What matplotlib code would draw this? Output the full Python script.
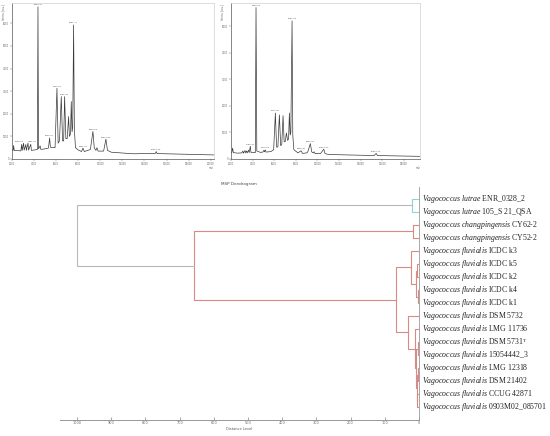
import matplotlib
matplotlib.use("Agg")
import matplotlib.pyplot as plt

plt.rcParams["mathtext.fontset"] = "custom"
plt.rcParams["mathtext.rm"] = "Liberation Serif"
plt.rcParams["mathtext.it"] = "Liberation Serif:italic"

# ---- spectrum 1 (m/z, intensity) ----
spec1_mz = [2000, 2100, 2150, 2200, 2800, 2880, 2920, 3050, 3100, 3250, 3300, 3450, 3500,
            3700, 3760, 4300, 4353, 4400, 4550, 4600, 4750, 5300, 5409, 5480, 5900, 6072,
            6180, 6300, 6464, 6580, 6680, 6766, 6880, 7000, 7128, 7200, 7300, 7370, 7440,
            7500, 7581, 7650, 7750, 8000, 8300, 8425, 8550, 9100, 9330, 9450, 9600, 9700,
            9800, 10300, 10507, 10650, 11000, 13000, 15000, 15060, 15150, 20300]
spec1_int = [400, 380, 600, 380, 360, 650, 380, 700, 390, 640, 380, 700, 390,
             650, 380, 420, 6730, 450, 580, 430, 430, 480, 930, 520, 500, 3130,
             700, 800, 2760, 800, 800, 2760, 900, 900, 1880, 1000, 1100, 2540, 1200,
             1400, 5930, 1300, 500, 400, 330, 480, 330, 420, 1220, 500, 380, 500,
             350, 350, 880, 380, 300, 230, 250, 330, 240, 180]
peak1_mz = [3050, 3450, 4353, 5409, 6072, 6766, 7581, 8425, 9330, 10507, 15060]
peak1_int = [700, 700, 6730, 930, 3130, 2760, 5930, 480, 1220, 880, 330]
peak1_txt = ["3048.21", "3451.67", "4353.31", "5409.07", "6072.52", "6766.40",
             "7581.77", "8425.12", "9330.58", "10507.86", "15060.35"]

# ---- spectrum 2 ----
spec2_mz = [2000, 2080, 2150, 2220, 2600, 3000, 3100, 3150, 3300, 3350, 3450, 3500,
            3620, 3680, 3790, 3850, 4250, 4317, 4390, 4550, 4700, 4950, 5050, 5100,
            5180, 5240, 5700, 5950, 6108, 6220, 6340, 6480, 6600, 6700, 6820, 6920,
            7020, 7130, 7240, 7330, 7406, 7480, 7540, 7654, 7720, 7820, 8200, 8490,
            8620, 9000, 9100, 9350, 9470, 9600, 9700, 9800, 10300, 10590, 10700, 11000,
            15250, 15440, 15560, 19500]
spec2_int = [230, 250, 410, 240, 220, 230, 300, 220, 320, 230, 300, 230,
             330, 240, 480, 250, 240, 5700, 300, 280, 250, 260, 330, 270,
             340, 260, 280, 350, 1730, 450, 450, 1660, 500, 550, 1630, 650,
             650, 980, 700, 750, 1730, 900, 1000, 5200, 900, 350, 230, 310,
             210, 230, 260, 580, 270, 230, 270, 200, 210, 370, 210, 170,
             130, 210, 130, 100]
peak2_mz = [3790, 4317, 5180, 6108, 7654, 8490, 9350, 10590, 15440]
peak2_int = [480, 5700, 340, 1730, 5200, 310, 580, 370, 210]
peak2_txt = ["3789.40", "4353.28", "5179.64", "6072.85", "7581.63", "8425.30",
             "9330.92", "10507.44", "15060.11"]

# ---- dendrogram ----
species = ["Vagococcus lutrae"] * 2 + ["Vagococcus changpingensis"] * 2 + ["Vagococcus fluvialis"] * 13
strains = ["ENR_0328_2", "105_S 21_QSA", "CY62-2", "CY52-2", "ICDC k3", "ICDC k5",
           "ICDC k2", "ICDC k4", "ICDC k1", "DSM 5732", "LMG 11736",
           "DSM 5731$^{\\mathrm{T}}$", "15054442_3", "LMG 12318", "DSM 21402",
           "CCUG 42871", "0903M02_085701"]
# merges like a linkage matrix: (child a, child b, distance); new nodes start at 17
merges = [(0, 1, 20), (2, 3, 18), (5, 6, 5), (7, 8, 3), (19, 20, 8), (4, 21, 22),
          (11, 12, 4), (13, 14, 3), (15, 16, 5), (24, 25, 7), (23, 26, 9),
          (10, 27, 11), (9, 28, 32), (22, 29, 67), (18, 30, 658), (17, 31, 1000)]
dist_ticks = [1000, 900, 800, 700, 600, 500, 400, 300, 200, 100, 0]

fig = plt.figure(figsize=(5.5, 4.36), dpi=100)


def draw_spectrum(rect, mz, inten, pk_mz, pk_int, pk_txt, xmax, ymax):
    ax = fig.add_axes(rect)
    ax.plot(mz, inten, color="#3a3a3a", lw=0.5)
    for j, (m, i, t) in enumerate(zip(pk_mz, pk_int, pk_txt)):
        ha = "center"
        # the two small peaks on the left sit close together
        if m < 3200:
            ha = "right"
        elif m < 3500:
            ha = "left"
        ax.text(m, i + ymax * 0.01, t, fontsize=1.6, color="#555555", ha=ha, va="bottom")
    ax.set_xlim(2000, xmax)
    ax.set_ylim(0, ymax)
    ax.set_xticks(range(2000, int(xmax) + 1, 2000))
    ax.set_yticks(range(0, int(ymax), 1000))
    ax.tick_params(labelsize=1.8, length=1.2, width=0.3, colors="#666666", pad=1)
    for s in ["left", "bottom"]:
        ax.spines[s].set_color("#555555")
        ax.spines[s].set_linewidth(0.5)
    for s in ["top", "right"]:
        ax.spines[s].set_color("#d0d0d0")
        ax.spines[s].set_linewidth(0.5)
    ax.text(-0.035, 0.99, "Intens. [a.u.]", transform=ax.transAxes, fontsize=1.8,
            rotation=90, ha="right", va="top", color="#555555")
    ax.text(1.0, -0.045, "m/z", transform=ax.transAxes, fontsize=1.8,
            ha="right", va="top", color="#555555")
    return ax


draw_spectrum([12 / 550, 1 - 159 / 436, 202 / 550, 156 / 436],
              spec1_mz, spec1_int, peak1_mz, peak1_int, peak1_txt, 20300, 6900)
draw_spectrum([231 / 550, 1 - 159 / 436, 189 / 550, 156 / 436],
              spec2_mz, spec2_int, peak2_mz, peak2_int, peak2_txt, 19500, 5870)

fig.text(239 / 550, 1 - 184 / 436, "MSP Dendrogram", fontsize=3, color="#444444",
         ha="center", va="center")

ax = fig.add_axes([60 / 550, 1 - 420 / 436, 359 / 550, 232.7 / 436])
n = len(strains)
ypos = {i: float(i) for i in range(n)}
hgt = {i: 0.0 for i in range(n)}
cyan, red, grey = "#8fd3d9", "#d98a85", "#b8b8b8"
for k, (a, b, d) in enumerate(merges):
    node = n + k
    if k == len(merges) - 1:
        col = grey
    elif k == 0:
        col = cyan
    else:
        col = red
    ax.plot([hgt[a], d, d, hgt[b]], [ypos[a], ypos[a], ypos[b], ypos[b]], color=col, lw=0.8)
    ypos[node] = (ypos[a] + ypos[b]) / 2
    hgt[node] = d

for i, (sp, st) in enumerate(zip(species, strains)):
    lab = "$\\mathit{" + sp.replace(" ", "\\ ") + "}$ " + st
    ax.text(-9, i, lab, fontsize=5.6, family="Liberation Serif", color="#222222",
            ha="left", va="center", clip_on=False)

ax.set_xlim(1050, 0)
ax.set_ylim(17, -0.9)
ax.set_yticks([])
ax.set_xticks(dist_ticks)
ax.set_xticklabels([str(t) for t in dist_ticks])
ax.tick_params(axis="x", direction="in", labelsize=2.5, length=2, width=0.4,
               colors="#666666", pad=1)
ax.spines["left"].set_visible(False)
ax.spines["top"].set_visible(False)
ax.spines["bottom"].set_color("#888888")
ax.spines["bottom"].set_linewidth(0.6)
ax.spines["right"].set_color("#999999")
ax.spines["right"].set_linewidth(0.6)
ax.set_xlabel("Distance Level", fontsize=2.5, color="#555555", labelpad=1)

fig.savefig("out.png", dpi=100)
